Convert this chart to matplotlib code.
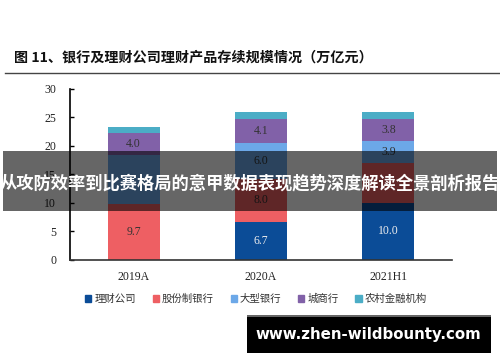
import matplotlib
matplotlib.use("Agg")
import matplotlib.pyplot as plt
from matplotlib.patches import Rectangle
from matplotlib.lines import Line2D
import numpy as np

plt.rcParams['font.family'] = ['Noto Sans CJK SC', 'DejaVu Sans']

categories = ['2019A', '2020A', '2021H1']
series_names = ['理财公司', '股份制银行', '大型银行', '城商行', '农村金融机构']
licai = [0.0, 6.7, 10.0]
gufen = [9.8, 7.5, 7.1]
daxing = [8.7, 6.4, 3.8]
chengshang = [3.8, 4.1, 3.8]
nongcun = [1.1, 1.2, 1.2]
licai_labels = ['', '6.7', '10.0']
gufen_labels = ['9.7', '8.0', '']
daxing_labels = ['', '6.0', '3.9']
chengshang_labels = ['4.0', '4.1', '3.8']
nongcun_labels = ['', '', '']
yticks = [0, 5, 10, 15, 20, 25, 30]

title = '图 11、银行及理财公司理财产品存续规模情况（万亿元）'
banner = '从攻防效率到比赛格局的意甲数据表现趋势深度解读全景剖析报告'
watermark = 'www.zhen-wildbounty.com'

colors = ['#0B4C97', '#EE5F63', '#6CA8E8', '#8161A8', '#4BADC6']
label_colors = ['#EEEEEE', '#333333', '#333333', '#333333', '#333333']

fig = plt.figure(figsize=(5.0, 3.62), dpi=100)
ax = fig.add_axes([0.14, 0.2818, 0.764, 0.4724])

x = np.arange(len(categories))
bottom = np.zeros(len(categories))
all_vals = [licai, gufen, daxing, chengshang, nongcun]
all_labels = [licai_labels, gufen_labels, daxing_labels, chengshang_labels, nongcun_labels]
for vals, labs, name, c, lc in zip(all_vals, all_labels, series_names, colors, label_colors):
    vals = np.array(vals)
    ax.bar(x, vals, width=0.41, bottom=bottom, color=c, label=name, zorder=2)
    for xi, b, v, l in zip(x, bottom, vals, labs):
        if l:
            ax.text(xi, b + v / 2, l, ha='center', va='center', fontsize=8.5,
                    family='Liberation Serif', color=lc, zorder=3)
    bottom = bottom + vals

ax.set_xlim(-0.5, 2.5)
ax.set_ylim(0, 30)
ax.set_yticks(yticks)
ax.set_xticks(x)
ax.set_xticklabels(categories, family='Liberation Serif', fontsize=8.5, color='#222222')
for t in ax.get_yticklabels():
    t.set_family('Liberation Serif')
    t.set_fontsize(8.5)
    t.set_color('#222222')
ax.tick_params(axis='y', direction='in', length=3, width=1, pad=10)
ax.tick_params(axis='x', length=0, pad=8)
for s in ['top', 'right']:
    ax.spines[s].set_visible(False)
ax.spines['left'].set_linewidth(1.2)
ax.spines['bottom'].set_linewidth(1.2)
ax.spines['bottom'].set_color('#333333')

handles = [Rectangle((0, 0), 1, 1, color=c) for c in colors]
fig.legend(handles, series_names, loc='center', bbox_to_anchor=(0.512, 0.174), ncol=5,
           frameon=False, fontsize=7.5, handlelength=0.6, handleheight=0.6,
           handletextpad=0.3, columnspacing=1.6, labelcolor='#333333')

fig.text(0.028, 0.84, title, fontsize=10.15, fontweight='bold', ha='left', va='center', color='#111111')
fig.add_artist(Line2D([0.01, 1.0], [0.798, 0.798], color='#444444', linewidth=1.0))

fig.add_artist(Rectangle((0.006, 0.417), 0.988, 0.166, facecolor='black', alpha=0.6,
                         edgecolor='none', zorder=10))
fig.text(0.5, 0.4945, banner, fontsize=12.45, fontweight='bold', color='white',
         ha='center', va='center', zorder=11)

fig.add_artist(Rectangle((0.494, 0.0249), 0.488, 0.105, facecolor='black',
                         edgecolor='none', zorder=10))
fig.add_artist(Rectangle((0.494, 0.1249), 0.488, 0.006, facecolor='#666666',
                         edgecolor='none', zorder=11))
fig.text(0.736, 0.0746, watermark, fontsize=10.8, fontweight='bold', color='white',
         ha='center', va='center', family='DejaVu Sans', zorder=12)

fig.savefig('out.png', dpi=100)
